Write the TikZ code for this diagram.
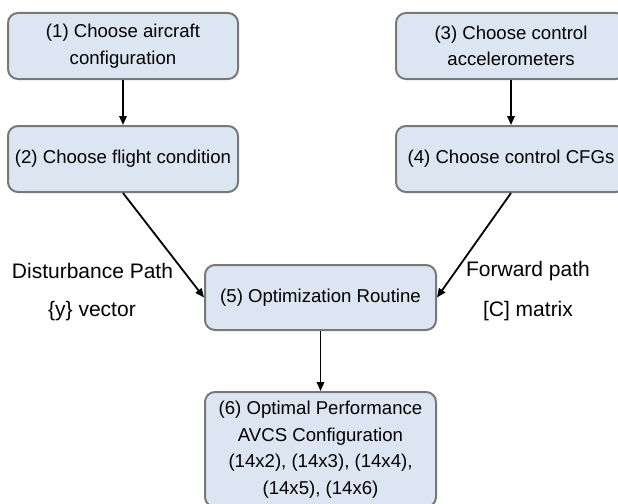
\documentclass[tikz,border=0pt]{standalone}
\usepackage{fontspec}
\setmainfont{Liberation Sans}
\usetikzlibrary{arrows.meta}
\definecolor{boxfill}{RGB}{220,230,242}
\definecolor{boxdraw}{RGB}{120,120,120}
\begin{document}
\begin{tikzpicture}[x=1pt,y=-1pt,
  box/.style={draw=boxdraw, line width=2pt, fill=boxfill, rounded corners=10pt,
    align=center, font=\fontsize{18.6pt}{26.5pt}\selectfont, inner sep=0pt,
    minimum width=230pt, minimum height=66pt},
  arr/.style={-{Triangle[length=9pt,width=7.5pt]}, line width=1.8pt, black},
  lbl/.style={font=\fontsize{21pt}{27pt}\selectfont, inner sep=0pt}]
\useasboundingbox (0,0) rectangle (618,503);
\clip (0,0) rectangle (618,503);
\node[box] (n1) at (123,46) {(1) Choose aircraft\\configuration};
\node[box] (n2) at (123,159) {(2) Choose flight condition};
\node[box] (n3) at (511,46) {(3) Choose control\\accelerometers};
\node[box] (n4) at (511,159) {(4) Choose control CFGs};
\node[box, minimum width=231pt, minimum height=65pt] (n5) at (320.5,297.5) {(5) Optimization Routine};
\node[box, minimum width=231pt, minimum height=115pt] (n6) at (320.5,449.5)
  {(6) Optimal Performance\\AVCS Configuration\\(14x2), (14x3), (14x4),\\(14x5), (14x6)};
\node[lbl] (l1) at (92.5,271) {Disturbance Path};
\node[lbl] (l2) at (92,311) {\{y\} vector};
\node[lbl] (l3) at (528,271) {Forward path};
\node[lbl] (l4) at (528,311) {[C] matrix};
\draw[arr] (n1) -- (n2);
\draw[arr] (n3) -- (n4);
\draw[arr] (n2.south) -- (n5.west);
\draw[arr] (n4.south) -- (n5.east);
\draw[arr] (n5) -- (n6);
\end{tikzpicture}
\end{document}
